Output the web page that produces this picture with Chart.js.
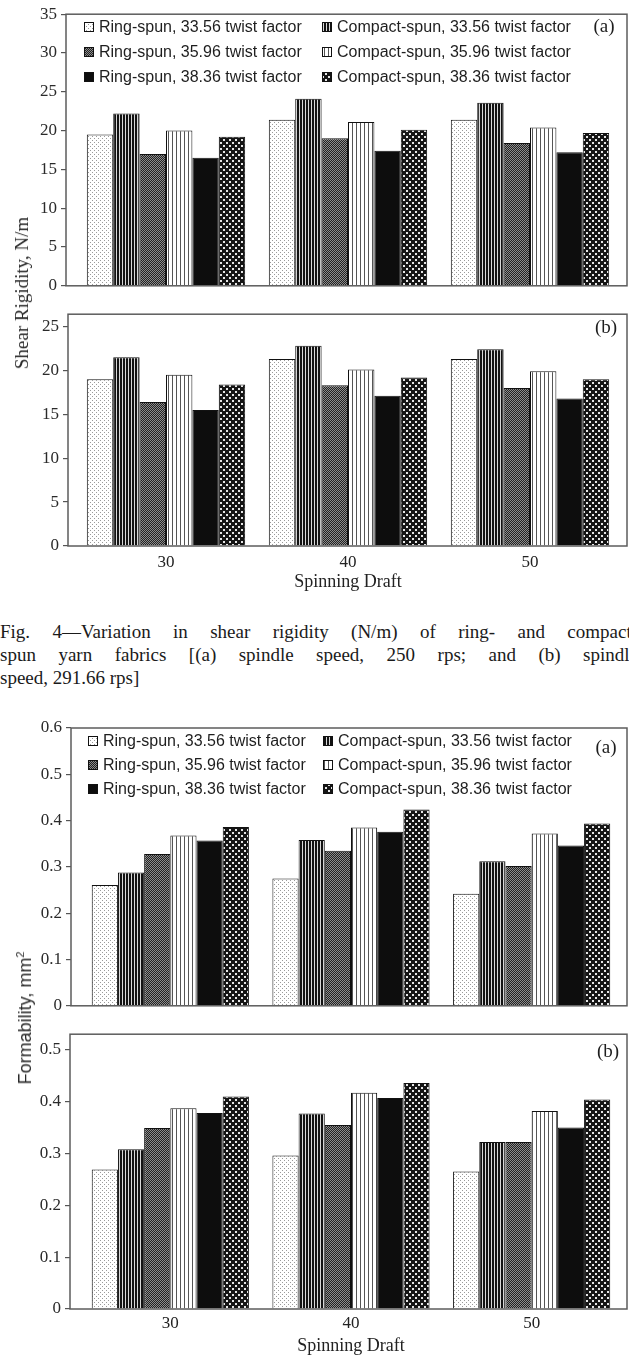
<!DOCTYPE html>
<html>
<head>
<meta charset="utf-8">
<script src="https://cdn.jsdelivr.net/npm/chart.js@4.4.1/dist/chart.umd.min.js"></script>
<style>
  html, body { margin: 0; padding: 0; background: #fff; }
  body { width: 629px; height: 1355px; position: relative; overflow: hidden; }
  canvas { position: absolute; left: 0; }
  .ytitle { position: absolute; white-space: nowrap; color: #2a2a2a; transform: translate(-50%, -50%) rotate(-90deg); }
  .caption { position: absolute; left: 0; top: 620px; font: 19px "Liberation Serif", serif; line-height: 23px; color: #1a1a1a; }
  .caption div { width: 638px; white-space: nowrap; }
  .caption .j { text-align: justify; text-align-last: justify; }
</style>
</head>
<body>
<canvas id="shearA" width="629" height="300" style="top:0px"></canvas>
<canvas id="shearB" width="629" height="300" style="top:300px"></canvas>
<canvas id="formA" width="629" height="330" style="top:690px"></canvas>
<canvas id="formB" width="629" height="335" style="top:1020px"></canvas>

<div class="ytitle" style="left:22px; top:293px; font:19px 'Liberation Serif', serif;">Shear Rigidity, N/m</div>
<div class="ytitle" style="left:25px; top:1018px; font:18px 'Liberation Sans', sans-serif;">Formability, mm<sup style="font-size:11px">2</sup></div>

<div class="caption">
  <div class="j">Fig. 4—Variation in shear rigidity (N/m) of ring- and compact-</div>
  <div class="j">spun yarn fabrics [(a) spindle speed, 250 rps; and (b) spindle</div>
  <div>speed, 291.66 rps]</div>
</div>

<script>
const drafts = ['30', '40', '50'];
const seriesNames = [
    'Ring-spun, 33.56 twist factor',
    'Compact-spun, 33.56 twist factor',
    'Ring-spun, 35.96 twist factor',
    'Compact-spun, 35.96 twist factor',
    'Ring-spun, 38.36 twist factor',
    'Compact-spun, 38.36 twist factor'
];

// one row per series (same order as seriesNames), one value per draft
const shearA = [
    [19.5, 21.4, 21.4],
    [22.2, 24.1, 23.6],
    [17.0, 19.0, 18.4],
    [20.0, 21.1, 20.4],
    [16.5, 17.4, 17.2],
    [19.2, 20.1, 19.7]
];
const shearB = [
    [19.0, 21.3, 21.3],
    [21.5, 22.8, 22.4],
    [16.4, 18.3, 18.0],
    [19.5, 20.1, 19.9],
    [15.5, 17.1, 16.8],
    [18.4, 19.2, 19.0]
];
const formA = [
    [0.261, 0.275, 0.242],
    [0.288, 0.358, 0.312],
    [0.328, 0.335, 0.302],
    [0.368, 0.385, 0.372],
    [0.357, 0.376, 0.346],
    [0.386, 0.424, 0.394]
];
const formB = [
    [0.269, 0.296, 0.265],
    [0.308, 0.377, 0.322],
    [0.349, 0.355, 0.322],
    [0.387, 0.417, 0.382],
    [0.378, 0.407, 0.350],
    [0.410, 0.436, 0.404]
];

const shearTicksA = [0, 5, 10, 15, 20, 25, 30, 35];
const shearTicksB = [0, 5, 10, 15, 20, 25];
const formTicksA = [0, 0.1, 0.2, 0.3, 0.4, 0.5, 0.6];
const formTicksB = [0, 0.1, 0.2, 0.3, 0.4, 0.5];

// hatch fills for the black & white print look
function tile(w, h, draw) {
    const c = document.createElement('canvas');
    c.width = w; c.height = h;
    const g = c.getContext('2d');
    draw(g);
    return g.createPattern(c, 'repeat');
}
const fills = [
    tile(4, 4, g => { g.fillStyle = '#fff'; g.fillRect(0, 0, 4, 4); g.fillStyle = '#9a9a9a'; g.fillRect(0, 0, 1, 1); g.fillRect(2, 2, 1, 1); }),
    tile(3, 1, g => { g.fillStyle = '#121212'; g.fillRect(0, 0, 3, 1); g.fillStyle = '#d8d8d8'; g.fillRect(2, 0, 1, 1); }),
    tile(2, 2, g => { g.fillStyle = '#222'; g.fillRect(0, 0, 2, 2); g.fillStyle = '#8c8c8c'; g.fillRect(0, 0, 1, 1); g.fillRect(1, 1, 1, 1); }),
    tile(4, 1, g => { g.fillStyle = '#fff'; g.fillRect(0, 0, 4, 1); g.fillStyle = '#555'; g.fillRect(0, 0, 1, 1); }),
    '#0d0d0d',
    tile(6, 6, g => { g.fillStyle = '#151515'; g.fillRect(0, 0, 6, 6); g.fillStyle = '#e6e6e6'; g.fillRect(1, 1, 2, 2); g.fillRect(4, 4, 2, 2); })
];

const framePlugin = {
    id: 'frame',
    // the category band sits a little inside the frame, as in the print
    afterLayout(chart, args, opts) {
        const x = chart.scales.x;
        x.left += opts.inL || 0;
        x.right -= opts.inR || 0;
        x.configure();
    },
    afterDatasetsDraw(chart) {
        const { ctx, chartArea: a } = chart;
        ctx.save();
        ctx.strokeStyle = '#5c5c5c';
        ctx.lineWidth = 1.5;
        ctx.strokeRect(a.left, a.top, a.right - a.left, a.bottom - a.top);
        ctx.restore();
    }
};

// legend box inside the plot, two columns, plus the (a)/(b) tag
const boxLegend = {
    id: 'boxLegend',
    afterDraw(chart, args, opts) {
        const ctx = chart.ctx;
        ctx.save();
        if (opts.rows) {
            ctx.font = '16px "Liberation Sans", Arial, sans-serif';
            ctx.textBaseline = 'middle';
            chart.data.datasets.forEach((ds, i) => {
                const x = opts.cols[i % 2];
                const y = opts.rows[Math.floor(i / 2)];
                ctx.fillStyle = ds.backgroundColor;
                ctx.fillRect(x, y - 5, 10, 10);
                ctx.strokeStyle = '#111';
                ctx.lineWidth = 1;
                ctx.strokeRect(x + 0.5, y - 4.5, 9, 9);
                ctx.fillStyle = '#1e1e1e';
                ctx.fillText(ds.label, x + 15, y + 1);
            });
        }
        ctx.font = '19px "Liberation Serif", serif';
        ctx.textAlign = 'center';
        ctx.textBaseline = 'middle';
        ctx.fillStyle = '#1e1e1e';
        ctx.fillText(opts.tag, opts.tagX, opts.tagY);
        ctx.restore();
    }
};

function makePanel(id, values, yMax, yTicks, fmt, cfg) {
    const ctx = document.getElementById(id).getContext('2d');
    return new Chart(ctx, {
        type: 'bar',
        data: {
            labels: drafts,
            datasets: seriesNames.map((name, i) => ({
                label: name,
                data: values[i],
                backgroundColor: fills[i],
                borderColor: '#111',
                borderWidth: 1,
                categoryPercentage: 0.87,
                barPercentage: 1
            }))
        },
        options: {
            responsive: false,
            animation: false,
            layout: { padding: { top: cfg.top, right: 2, left: 0, bottom: 0 } },
            plugins: {
                legend: { display: false },
                tooltip: { enabled: false },
                boxLegend: cfg.legend,
                frame: { inL: cfg.inL, inR: cfg.inR }
            },
            scales: {
                x: {
                    grid: { display: false, drawTicks: false },
                    border: { display: false },
                    ticks: {
                        display: cfg.showX,
                        padding: cfg.xPad,
                        color: '#222',
                        font: { family: '"Liberation Serif", serif', size: 17 }
                    },
                    title: {
                        display: cfg.showX,
                        text: 'Spinning Draft',
                        color: '#222',
                        padding: { top: 0, bottom: cfg.titlePad },
                        font: { family: '"Liberation Serif", serif', size: 18, lineHeight: 1 }
                    },
                    afterFit: s => { s.height = cfg.xHeight; }
                },
                y: {
                    min: 0,
                    max: yMax,
                    afterBuildTicks: axis => { axis.ticks = yTicks.map(v => ({ value: v })); },
                    grid: { drawOnChartArea: false, tickLength: 5, color: '#555', lineWidth: 1.2 },
                    border: { display: false },
                    ticks: {
                        padding: 4,
                        color: '#2a2a2a',
                        font: { family: '"Liberation Serif", serif', size: 17 },
                        callback: fmt
                    },
                    afterFit: s => { s.width = cfg.yWidth; }
                }
            }
        },
        plugins: [framePlugin, boxLegend]
    });
}

const intFmt = v => String(v);
const decFmt = v => (v === 0 ? '0' : v.toFixed(1));

makePanel('shearA', shearA, 35, shearTicksA, intFmt, {
    top: 13, xHeight: 7, yWidth: 66, showX: false, xPad: 0, titlePad: 0, inL: 9, inR: 6,
    legend: { cols: [84, 322], rows: [27, 52, 77], tag: '(a)', tagX: 604, tagY: 27 }
});
makePanel('shearB', shearB, 26.4, shearTicksB, intFmt, {
    top: 9, xHeight: 54, yWidth: 68, showX: true, xPad: 6, titlePad: 9, inL: 7, inR: 6,
    legend: { tag: '(b)', tagX: 606, tagY: 28 }
});
makePanel('formA', formA, 0.6, formTicksA, decFmt, {
    top: 38, xHeight: 7, yWidth: 71, showX: false, xPad: 0, titlePad: 0, inL: 9, inR: 5,
    legend: { cols: [88, 323], rows: [51, 75, 99], tag: '(a)', tagX: 606, tagY: 58 }
});
makePanel('formB', formB, 0.53, formTicksB, decFmt, {
    top: 9, xHeight: 46, yWidth: 70, showX: true, xPad: 4, titlePad: 0, inL: 10, inR: 5,
    legend: { tag: '(b)', tagX: 608, tagY: 32 }
});
</script>
</body>
</html>
